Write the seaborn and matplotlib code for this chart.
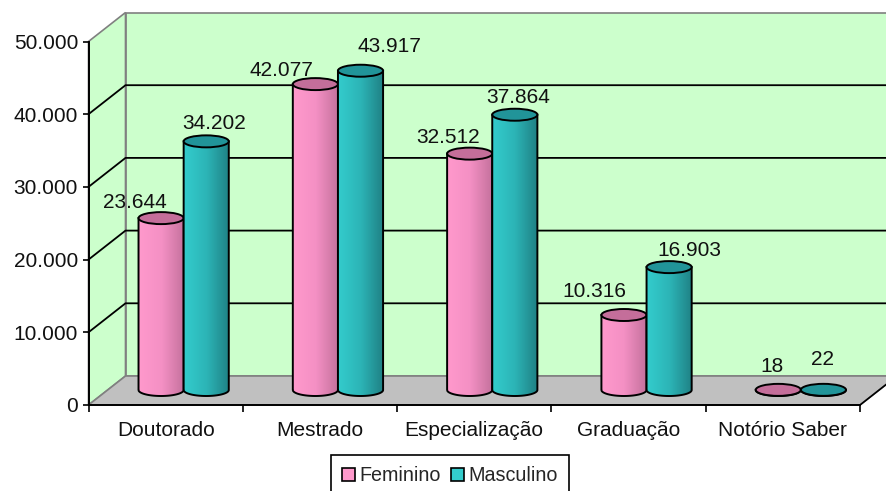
import numpy as np
import pandas as pd
import matplotlib
matplotlib.use('Agg')
import matplotlib.pyplot as plt
from matplotlib.patches import Polygon, Ellipse, PathPatch
from matplotlib.path import Path
from matplotlib.colors import LinearSegmentedColormap, to_hex
from matplotlib.transforms import Affine2D, IdentityTransform
import seaborn as sns

categories = ['Doutorado', 'Mestrado', 'Especialização', 'Graduação', 'Notório Saber']
feminino = [23644, 42077, 32512, 10316, 18]
masculino = [34202, 43917, 37864, 16903, 22]
y_ticks = [0, 10000, 20000, 30000, 40000, 50000]

# label offsets in px from the top of each cylinder, the original has them hand placed
label_dx = [-26, -34, -22, -30, -6, 8, 29, 3, 20, -1]
label_dy = [16, 14, 16, 24, 23, 18, 24, 17, 17, 30]

W, H = 886, 491
DEPTH = (37, 29)
MID = (18, 15)
FS = 15

sns.set_theme(style='white')
plt.rcParams['font.family'] = ['Liberation Sans', 'DejaVu Sans']

df = pd.DataFrame({
    'categoria': categories * 2,
    'sexo': ['Feminino'] * 5 + ['Masculino'] * 5,
    'valor': feminino + masculino,
})

fig = plt.figure(figsize=(W / 100, H / 100), dpi=100, facecolor='white')
ax = fig.add_axes([88.5 / W, 1 - 405 / H, (860 - 88.5) / W, (405 - 41.5) / H])

palette = {'Feminino': '#FF99CC', 'Masculino': '#33CCCC'}
sns.barplot(data=df, x='categoria', y='valor', hue='sexo', palette=palette,
            width=0.585, saturation=1, dodge=True, ax=ax, zorder=3)
ax.set_xlim(-0.5, 4.5)
ax.set_ylim(0, 50000)
ax.set_xlabel('')
ax.set_ylabel('')
ax.patch.set_visible(False)


def px(x, y, d=(0, 0)):
    p = ax.transData.transform((x, y))
    return (p[0] + d[0], p[1] + d[1])


ident = IdentityTransform()

# walls and floor
back = [px(-0.5, 0, DEPTH), px(4.5, 0, DEPTH), px(4.5, 50000, DEPTH), px(-0.5, 50000, DEPTH)]
side = [px(-0.5, 0), px(-0.5, 0, DEPTH), px(-0.5, 50000, DEPTH), px(-0.5, 50000)]
floor = [px(-0.5, 0), px(4.5, 0), px(4.5, 0, DEPTH), px(-0.5, 0, DEPTH)]
for pts, col in [(back, '#CCFFCC'), (side, '#CCFFCC'), (floor, '#C0C0C0')]:
    fig.add_artist(Polygon(pts, closed=True, transform=ident, facecolor=col,
                           edgecolor='#808080', lw=1.2, zorder=-5))

for t in y_ticks[1:-1]:
    a, b, c = px(-0.5, t), px(-0.5, t, DEPTH), px(4.5, t, DEPTH)
    ax.plot([a[0], b[0], c[0]], [a[1], b[1], c[1]], color='black', lw=1.3,
            transform=ident, clip_on=False, zorder=1)
a, b = px(4.5, 0), px(4.5, 0, DEPTH)
ax.plot([a[0], b[0]], [a[1], b[1]], color='black', lw=1.2, transform=ident, clip_on=False, zorder=1)

# seaborn gives the bar positions, redraw each as a shaded cylinder
shift = Affine2D().translate(*MID)
to_px = ax.transData + shift
ry = 6 / (ax.transData.transform((0, 1))[1] - ax.transData.transform((0, 0))[1])
cmaps = {
    '#ff99cc': (LinearSegmentedColormap.from_list('f', ['#FF99CC', '#F490C4', '#C4719C']), '#C46E9A'),
    '#33cccc': (LinearSegmentedColormap.from_list('m', ['#33CCCC', '#2CB4B6', '#1F8084']), '#219499'),
}
bars = [p for c in ax.containers for p in c]
for i, bar in enumerate(bars):
    x0, w, h = bar.get_x(), bar.get_width(), bar.get_height()
    cmap, top_col = cmaps[to_hex(bar.get_facecolor())]
    bar.set_visible(False)
    z = 3 + (i >= 5) * 0.5 + i * 0.01
    t = np.linspace(np.pi, 2 * np.pi, 40)
    xs = x0 + w / 2 + w / 2 * np.cos(t)
    ys = ry * np.sin(t)
    verts = list(zip(xs, ys)) + [(x0 + w, h), (x0, h), (x0, 0)]
    body = Path(verts)
    im = ax.imshow(np.linspace(0, 1, 64).reshape(1, -1), cmap=cmap, aspect='auto',
                   extent=(x0, x0 + w, -ry, max(h, 1)), zorder=z, transform=to_px)
    im.set_clip_path(body, transform=to_px)
    ax.add_patch(PathPatch(body, facecolor='none', edgecolor='black', lw=1.4,
                           transform=to_px, clip_on=False, zorder=z + 0.001))
    ax.add_patch(Ellipse((x0 + w / 2, h), w, 2 * ry, facecolor=top_col, edgecolor='black', lw=1.4,
                         transform=to_px, clip_on=False, zorder=z + 0.002))
    ax.annotate(f'{int(h):,}'.replace(',', '.'), xy=(x0 + w / 2, h), xycoords=to_px,
                xytext=(label_dx[i] * 0.72, label_dy[i] * 0.72), textcoords='offset points',
                ha='center', va='center', fontsize=FS, color='#111111', zorder=10)
ax.set_xlim(-0.5, 4.5)
ax.set_ylim(0, 50000)

# axes and ticks
sns.despine(ax=ax)
for s in ('left', 'bottom'):
    ax.spines[s].set_linewidth(1.4)
    ax.spines[s].set_color('black')
    ax.spines[s].set_zorder(2.5)
ax.set_yticks(y_ticks)
ax.set_yticklabels([f'{t:,}'.replace(',', '.') for t in y_ticks], fontsize=FS, color='#111111')
ax.set_xticks(np.arange(-0.5, 5), minor=True)
ax.set_xticks(range(5))
ax.set_xticklabels(categories, fontsize=FS, color='#111111')
ax.tick_params(axis='x', which='major', length=0, pad=11.5)
ax.tick_params(axis='x', which='minor', length=5, width=1.2, color='black', bottom=True)
ax.tick_params(axis='y', length=4, width=1.2, color='black', left=True, pad=3.5)

# legend, its lower edge runs off the bottom of the picture like the original
leg = ax.legend(loc='upper left', bbox_to_anchor=(331 / W, 1 - 455 / H),
                bbox_transform=fig.transFigure, ncol=2, frameon=True, fontsize=14.2,
                handlelength=0.65, handleheight=0.65, handletextpad=0.22, columnspacing=0.5,
                borderpad=0.58, borderaxespad=0, fancybox=False, edgecolor='black', framealpha=1)
leg.get_frame().set_linewidth(1.2)
leg.set_zorder(20)
for handle in leg.get_patches():
    handle.set_edgecolor('black')
    handle.set_linewidth(1.2)

fig.savefig('out.png', dpi=100, facecolor='white')
plt.close(fig)
